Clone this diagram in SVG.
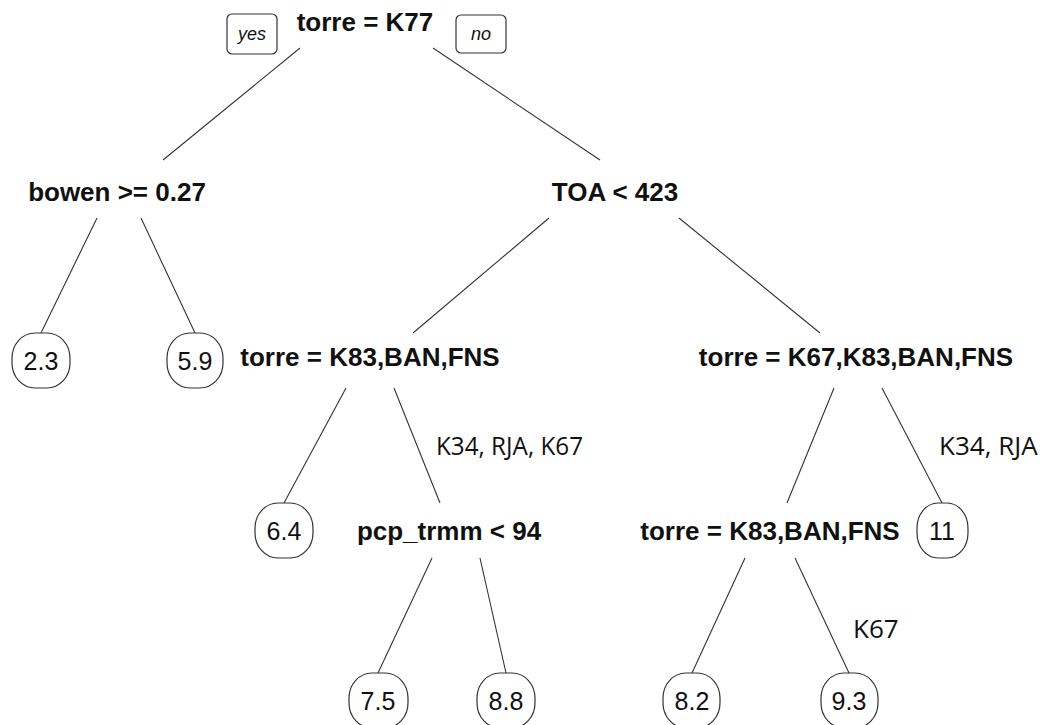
<svg xmlns="http://www.w3.org/2000/svg" width="1045" height="725" viewBox="0 0 1045 725">
  <style>
    .split { font-family: "Liberation Sans", Arial, sans-serif; font-weight: bold; font-size: 26px; fill: #111; text-anchor: middle; }
    .leaf rect { fill: #fff; stroke: #333; stroke-width: 1.2; }
    .leaf text { font-family: "Liberation Sans", Arial, sans-serif; font-size: 25px; fill: #111; text-anchor: middle; }
    .tag rect { fill: #fff; stroke: #333; stroke-width: 1.2; }
    .tag text { font-family: "Liberation Sans", Arial, sans-serif; font-style: italic; font-size: 18px; fill: #111; text-anchor: middle; }
    .note { font-family: "Open Sans", "Noto Sans", sans-serif; font-size: 26px; fill: #111; }
    .edges line { stroke: #333; stroke-width: 1.1; }
  </style>
  <rect width="1045" height="725" fill="#fff"/>

  <!-- connectors -->
  <g id="edges" class="edges">
    <line x1="300" y1="48" x2="163" y2="160"/>
    <line x1="433" y1="48" x2="600" y2="160"/>
    <line x1="97" y1="218" x2="41" y2="333"/>
    <line x1="141" y1="218" x2="195" y2="333"/>
    <line x1="549" y1="218" x2="413" y2="333"/>
    <line x1="679" y1="218" x2="820" y2="333"/>
    <line x1="346" y1="388" x2="284" y2="503"/>
    <line x1="394" y1="388" x2="440" y2="503"/>
    <line x1="834" y1="388" x2="787" y2="503"/>
    <line x1="882" y1="388" x2="942" y2="503"/>
    <line x1="432" y1="558" x2="378" y2="673"/>
    <line x1="480" y1="558" x2="506" y2="673"/>
    <line x1="745" y1="558" x2="692" y2="673"/>
    <line x1="795" y1="558" x2="849" y2="673"/>
  </g>

  <!-- yes / no tags -->
  <g id="tag-yes" class="tag">
    <rect x="227" y="14" width="50" height="40" rx="5"/>
    <text x="252" y="40">yes</text>
  </g>
  <g id="tag-no" class="tag">
    <rect x="456" y="15" width="50" height="38" rx="5"/>
    <text x="481" y="40">no</text>
  </g>

  <!-- split nodes -->
  <g id="n-root"><text class="split" x="365" y="31">torre = K77</text></g>
  <g id="n-bowen"><text class="split" x="117" y="201">bowen &gt;= 0.27</text></g>
  <g id="n-toa"><text class="split" x="615" y="201">TOA &lt; 423</text></g>
  <g id="n-torre-left"><text class="split" x="370" y="366">torre = K83,BAN,FNS</text></g>
  <g id="n-torre-right"><text class="split" x="856" y="366">torre = K67,K83,BAN,FNS</text></g>
  <g id="n-pcp"><text class="split" x="449" y="540">pcp_trmm &lt; 94</text></g>
  <g id="n-torre-low"><text class="split" x="770" y="540">torre = K83,BAN,FNS</text></g>

  <!-- leaves -->
  <g id="leaf-2-3" class="leaf"><rect x="12" y="333" width="58" height="55" rx="23" ry="25"/><text x="41" y="370">2.3</text></g>
  <g id="leaf-5-9" class="leaf"><rect x="167" y="333" width="56" height="55" rx="23" ry="25"/><text x="195" y="370">5.9</text></g>
  <g id="leaf-6-4" class="leaf"><rect x="255" y="503" width="58" height="55" rx="23" ry="25"/><text x="284" y="540">6.4</text></g>
  <g id="leaf-11" class="leaf"><rect x="917" y="503" width="51" height="55" rx="21" ry="25"/><text x="942" y="540">11</text></g>
  <g id="leaf-7-5" class="leaf"><rect x="349" y="673" width="59" height="55" rx="23" ry="25"/><text x="378" y="710">7.5</text></g>
  <g id="leaf-8-8" class="leaf"><rect x="477" y="673" width="58" height="55" rx="23" ry="25"/><text x="506" y="710">8.8</text></g>
  <g id="leaf-8-2" class="leaf"><rect x="663" y="673" width="57" height="55" rx="23" ry="25"/><text x="692" y="710">8.2</text></g>
  <g id="leaf-9-3" class="leaf"><rect x="821" y="673" width="57" height="55" rx="23" ry="25"/><text x="849" y="710">9.3</text></g>

  <!-- branch annotations -->
  <g id="notes">
    <text class="note" x="436" y="455" textLength="147" lengthAdjust="spacingAndGlyphs">K34, RJA, K67</text>
    <text class="note" x="939" y="455">K34, RJA</text>
    <text class="note" x="853" y="638">K67</text>
  </g>
</svg>
